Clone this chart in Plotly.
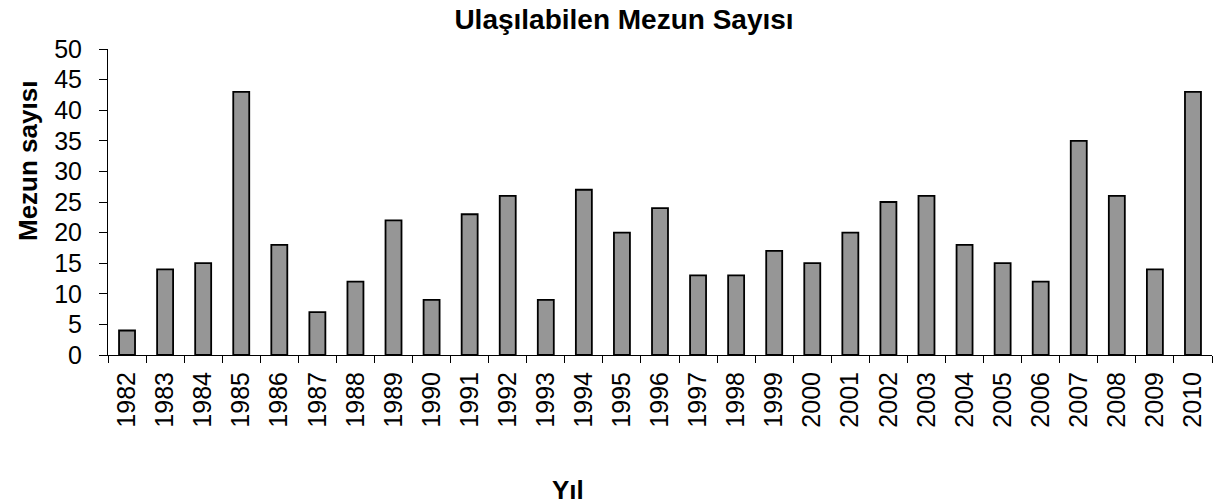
import plotly.graph_objects as go

years = [str(y) for y in range(1982, 2011)]
counts = [4, 14, 15, 43, 18, 7, 12, 22, 9, 23, 26, 9, 27, 20, 24, 13, 13, 17, 15, 20,
          25, 26, 18, 15, 12, 35, 26, 14, 43]

title_text = "Ulaşılabilen Mezun Sayısı"
y_title = "Mezun sayısı"
x_title = "Yıl"

W, H = 1221, 504
FONT = "Liberation Sans, Arial, sans-serif"

fig = go.Figure(go.Bar(
    x=years, y=counts,
    marker=dict(color="#969696", line=dict(color="black", width=1.8)),
))

fig.update_layout(
    width=W, height=H,
    margin=dict(l=108, r=9, t=49, b=149),
    paper_bgcolor="white", plot_bgcolor="white",
    bargap=0.58,
    showlegend=False,
    font=dict(family=FONT, color="black"),
    title=dict(text="<b>" + title_text + "</b>", x=624 / W, xanchor="center",
               xref="container", y=1 - 19 / H, yanchor="middle", yref="container",
               font=dict(size=28, family=FONT, color="black")),
    xaxis=dict(type="category", tickson="boundaries", ticks="outside", ticklen=7,
               tickcolor="black", tickangle=-90, showline=True, linecolor="black",
               linewidth=1, tickfont=dict(size=25, family=FONT), showgrid=False,
               ticklabelstandoff=6),
    yaxis=dict(range=[0, 50], dtick=5, ticks="outside", ticklen=8, tickcolor="black",
               showline=True, linecolor="black", linewidth=1, showgrid=False,
               zeroline=False, tickfont=dict(size=25, family=FONT),
               ticklabelstandoff=12),
    annotations=[
        dict(text="<b>" + y_title + "</b>", textangle=-90, xref="paper", yref="paper",
             x=(28 - 108) / (W - 117), y=1 - (161 - 49) / (H - 198), xanchor="center",
             yanchor="middle", showarrow=False, font=dict(size=26, family=FONT)),
        dict(text="<b>" + x_title + "</b>", xref="paper", yref="paper",
             x=(568 - 108) / (W - 117), y=-(490 - 355) / (H - 198), xanchor="center",
             yanchor="middle", showarrow=False, font=dict(size=26, family=FONT)),
    ],
)

fig.write_html("out.html", config={"displayModeBar": False},
               post_script="document.body.style.margin='0px';")
